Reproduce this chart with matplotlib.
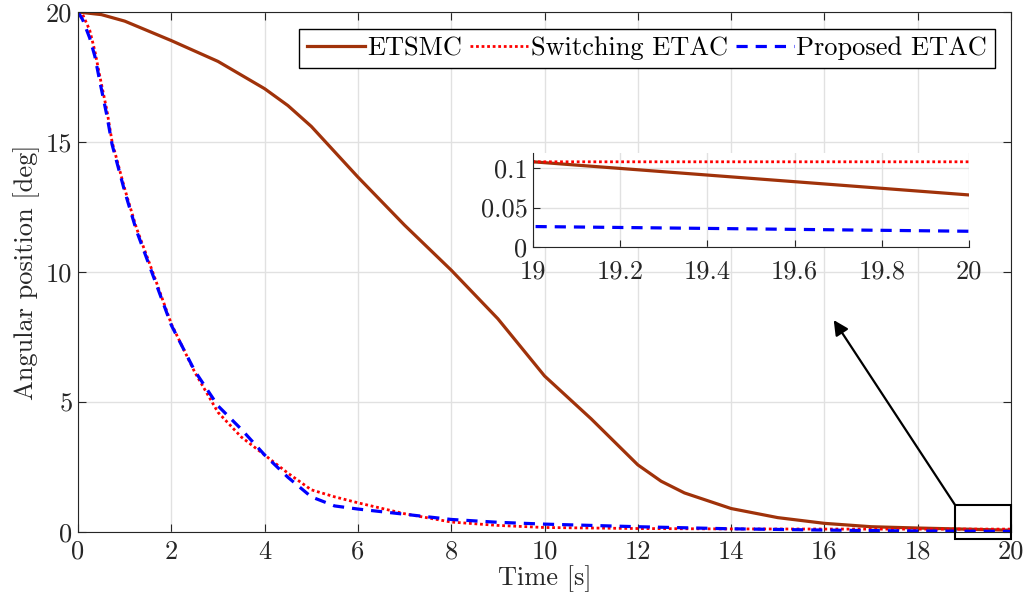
import numpy as np
import matplotlib.pyplot as plt
from matplotlib.patches import Rectangle

plt.rcParams['font.family'] = ['cmr10', 'DejaVu Serif']
plt.rcParams['mathtext.fontset'] = 'cm'
plt.rcParams['axes.formatter.use_mathtext'] = True

# ETSMC
t_etsmc = [0, 0.5, 1, 2, 3, 4, 4.5, 5, 6, 7, 8, 9, 10, 11, 12, 12.5, 13, 14, 15, 16, 17, 18, 19, 20]
y_etsmc = [20, 19.9, 19.65, 18.9, 18.1, 17.05, 16.4, 15.6, 13.65, 11.8, 10.07, 8.2, 6.0, 4.35,
           2.58, 1.95, 1.5, 0.9, 0.55, 0.33, 0.2, 0.15, 0.108, 0.066]

# Switching ETAC
t_sw = [0, 0.1, 0.25, 0.36, 0.47, 0.62, 0.73, 1, 1.25, 1.6, 2, 2.5, 3, 3.5, 4, 4.5, 5,
        5.5, 6, 7, 8, 9, 10, 12, 14, 16, 18, 19, 20]
y_sw = [20, 19.9, 19.3, 18.5, 17.5, 16.2, 15.0, 13.2, 11.7, 10.0, 8.0, 6.15, 4.6, 3.65, 2.96,
        2.26, 1.62, 1.35, 1.12, 0.7, 0.38, 0.25, 0.17, 0.13, 0.115, 0.11, 0.108, 0.108, 0.108]

# Proposed ETAC
t_pr = [0, 0.1, 0.25, 0.36, 0.47, 0.62, 0.73, 1, 1.25, 1.6, 2, 2.5, 3, 3.5, 4, 4.5, 5,
        5.5, 6, 7, 8, 9, 10, 12, 14, 16, 18, 19, 20]
y_pr = [20, 19.7, 19.0, 18.3, 17.3, 16.0, 14.9, 13.1, 11.6, 9.9, 7.95, 6.2, 4.85, 3.95, 2.96,
        2.1, 1.35, 1.0, 0.88, 0.68, 0.48, 0.37, 0.3, 0.2, 0.12, 0.07, 0.035, 0.026, 0.020]

c_etsmc = '#a0320a'
c_sw = '#ff0000'
c_pr = '#0000ff'
axc = '#262626'
fs = 19

fig = plt.figure(figsize=(10.27, 6.10), dpi=100)
ax = fig.add_axes([0.076, 0.128, 0.9084, 0.8523])

ax.plot(t_etsmc, y_etsmc, color=c_etsmc, lw=2.3, label='ETSMC')
ax.plot(t_sw, y_sw, color=c_sw, lw=2.0, ls=(0, (1, 1)), label='Switching ETAC')
ax.plot(t_pr, y_pr, color=c_pr, lw=2.3, ls=(0, (3.5, 2.5)), label='Proposed ETAC')

ax.set_xlim(0, 20)
ax.set_ylim(0, 20)
ax.set_xticks(np.arange(0, 21, 2))
ax.set_xticklabels([str(v) for v in range(0, 21, 2)])
ax.set_yticks([0, 5, 10, 15, 20])
ax.set_yticklabels(['0', '5', '10', '15', '20'])
ax.grid(True, color='#e1e1e1', lw=1)
ax.set_axisbelow(True)
ax.tick_params(direction='in', top=True, right=True, labelsize=fs, colors=axc, length=6, pad=4)
ax.tick_params(axis='x', pad=6)
for s in ax.spines.values():
    s.set_color(axc)
ax.set_xlabel('Time [s]', fontsize=fs, color=axc, labelpad=1)
ax.set_ylabel('Angular position [deg]', fontsize=fs, color=axc, labelpad=4)

leg = ax.legend(loc='upper right', ncol=3, fontsize=fs, handlelength=2.2,
                handletextpad=0.1, columnspacing=0.3, borderpad=0.3, borderaxespad=0,
                fancybox=False, framealpha=1, edgecolor='k', bbox_to_anchor=(0.983, 0.968))
leg.get_frame().set_linewidth(1.0)

# zoom box and arrow
ax.add_patch(Rectangle((18.8, -0.27), 1.2, 1.31, fill=False, ec='k', lw=1.5,
                       clip_on=False, zorder=5))
ax.annotate('', xy=(16.2, 8.15), xytext=(18.8, 1.04),
            arrowprops=dict(arrowstyle='-|>', color='k', lw=1.6, mutation_scale=22,
                            shrinkA=0, shrinkB=0))

# inset
ins = fig.add_axes([0.519, 0.595, 0.4245, 0.154])
ins.set_facecolor('white')
ins.plot(t_etsmc, y_etsmc, color=c_etsmc, lw=2.3)
ins.plot(t_sw, y_sw, color=c_sw, lw=2.0, ls=(0, (1, 1)))
ins.plot(t_pr, y_pr, color=c_pr, lw=2.3, ls=(0, (3.5, 2.5)))
ins.set_xlim(19, 20)
ins.set_ylim(0, 0.119)
ins.set_xticks([19, 19.2, 19.4, 19.6, 19.8, 20])
ins.set_xticklabels(['19', '19.2', '19.4', '19.6', '19.8', '20'])
ins.set_yticks([0, 0.05, 0.1])
ins.set_yticklabels(['0', '0.05', '0.1'])
ins.grid(True, color='#e1e1e1', lw=1)
ins.set_axisbelow(True)
ins.spines['top'].set_visible(False)
ins.spines['right'].set_visible(False)
for s in ins.spines.values():
    s.set_color(axc)
ins.tick_params(direction='in', labelsize=fs, colors=axc, length=5, pad=4)
ins.tick_params(axis='x', pad=9)

fig.savefig('out.png', dpi=100)
